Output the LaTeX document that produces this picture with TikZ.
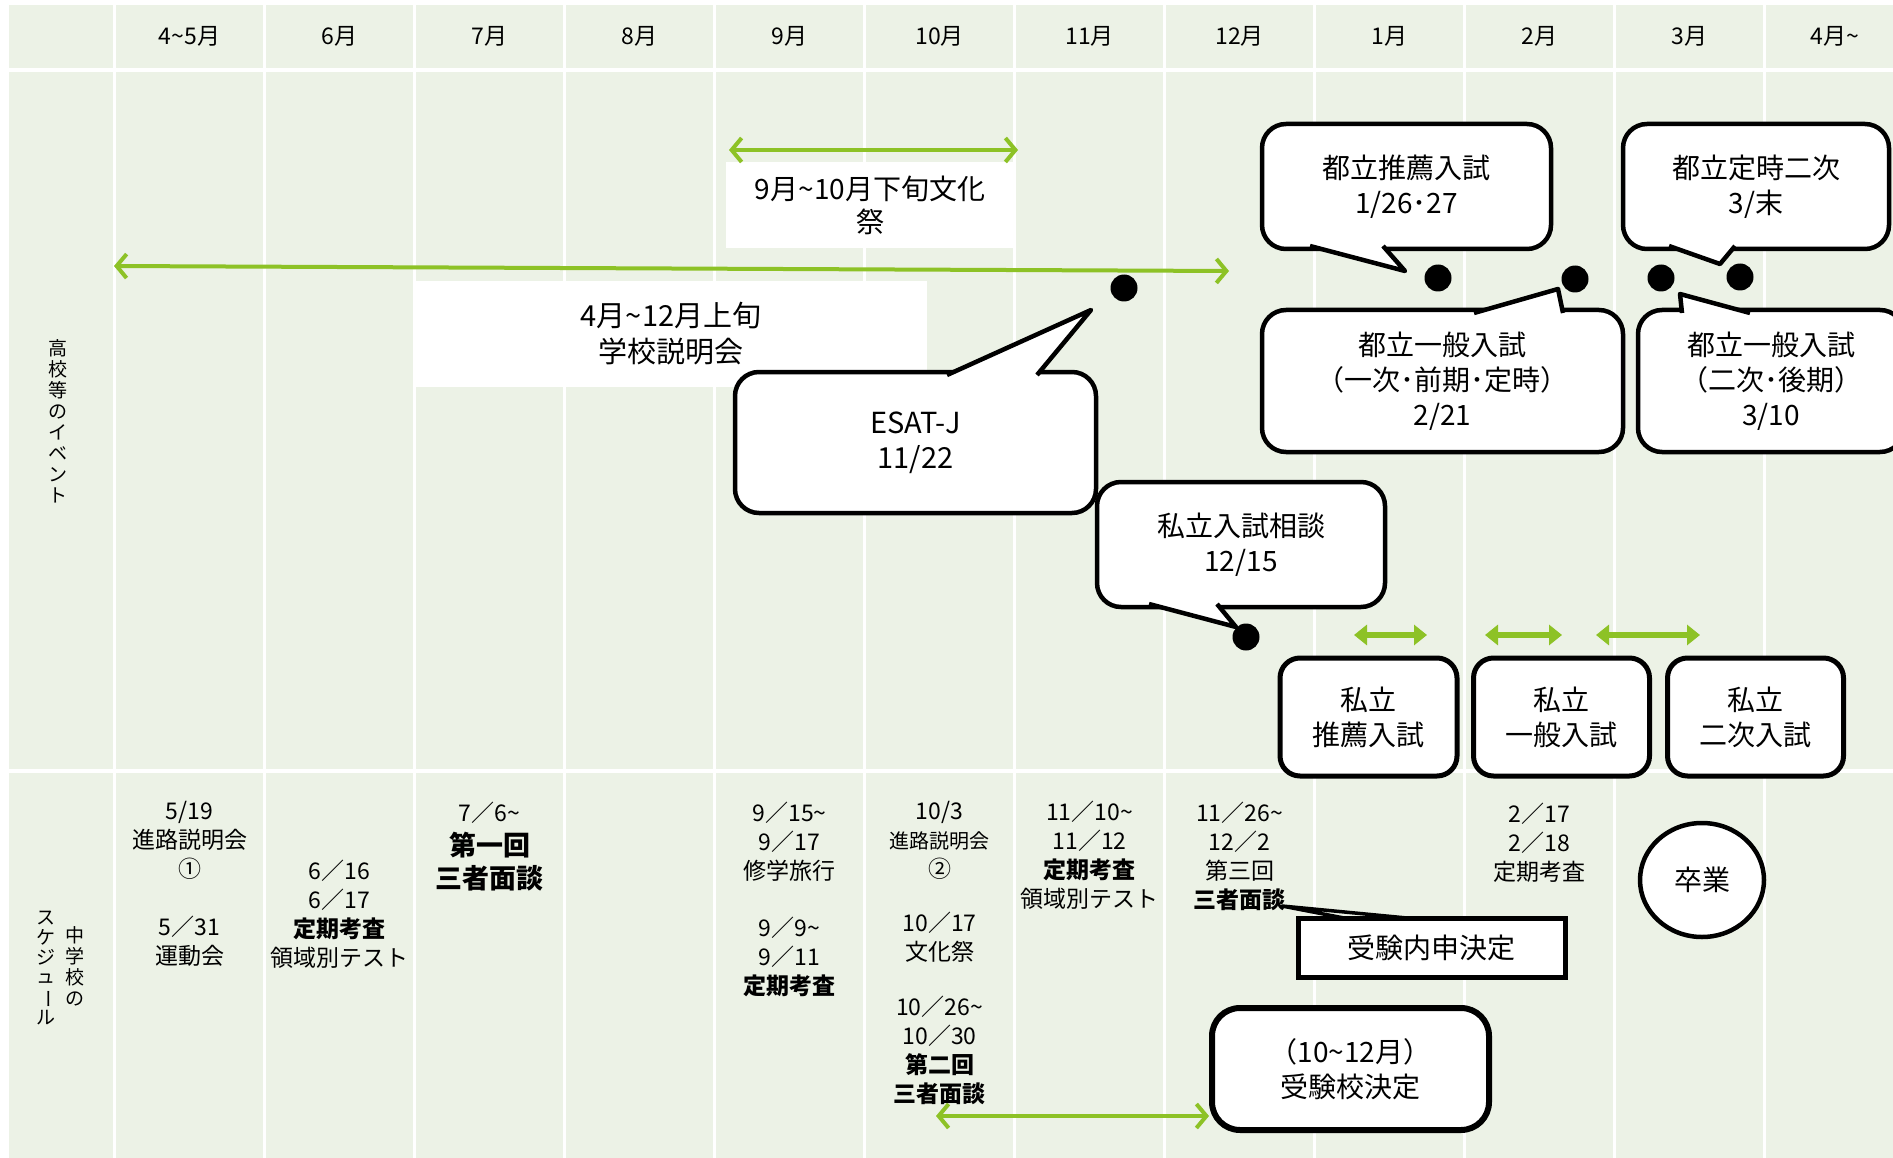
\documentclass[tikz,border=0pt]{standalone}
\usepackage{fontspec}
\setmainfont{Noto Sans CJK JP}
\usetikzlibrary{arrows.meta,shapes.geometric}
\definecolor{bggreen}{RGB}{236,242,230}
\definecolor{limegreen}{RGB}{141,194,38}
\newcommand{\fsz}[2]{\fontsize{#1}{#2}\selectfont}
\newcommand{\tld}{\textasciitilde}
\newcommand{\vbar}{\rotatebox[origin=c]{-90}{ー}}
\newcommand{\callptr}[3]{\fill[white] (#1) -- (#2) -- (#3) -- cycle; \draw[ptrline] (#1) -- (#2) -- (#3);}
\tikzset{
  gridline/.style={draw=white, line width=3.2pt},
  hdr/.style={font=\fsz{23}{26}, inner sep=0pt},
  vlab/.style={font=\fsz{19}{21}, align=center, inner sep=0pt},
  lbl/.style={fill=white, inner sep=0pt, align=center},
  call/.style={draw=black, fill=white, line width=4.5pt, rounded corners=24pt, outer sep=0pt, align=center, inner sep=0pt, font=\fsz{28}{35}},
  pbox/.style={call, rounded corners=20pt, line width=5pt},
  ptrline/.style={draw=black, line width=4.5pt, line join=round},
  dot/.style={circle, fill=black, minimum size=27pt, inner sep=0pt},
  garrow/.style={draw=limegreen, line width=4pt, >={Straight Barb[length=10pt,width=24pt]}, <->},
  sarrow/.style={draw=limegreen, line width=6pt, >={Triangle[length=13pt,width=20pt]}, <->},
  txt/.style={align=center, inner sep=0pt, font=\fsz{23}{29}},
}
\begin{document}
\begin{tikzpicture}[x=1pt,y=-1pt]
\useasboundingbox (0,0) rectangle (1893,1158);
\clip (0,0) rectangle (1893,1158);
% background table
\fill[white] (0,0) rectangle (1893,1158);
\fill[bggreen] (8.6,4.7) rectangle (1893,1158);
\foreach \x in {114.5,264.5,414.5,564.5,714.5,864.5,1014.5,1164.5,1314.5,1464.5,1614.5,1764.5}
  \draw[gridline] (\x,0) -- (\x,1158);
\draw[gridline] (0,70) -- (1893,70);
\draw[gridline] (0,771) -- (1893,771);

% header
\node[hdr] (h1) at (189.5,36) {4\tld5月};
\node[hdr] (h2) at (339.5,36) {6月};
\node[hdr] (h3) at (489.5,36) {7月};
\node[hdr] (h4) at (639.5,36) {8月};
\node[hdr] (h5) at (789.5,36) {9月};
\node[hdr] (h6) at (939.5,36) {10月};
\node[hdr] (h7) at (1089.5,36) {11月};
\node[hdr] (h8) at (1239.5,36) {12月};
\node[hdr] (h9) at (1389.5,36) {1月};
\node[hdr] (h10) at (1539.5,36) {2月};
\node[hdr] (h11) at (1689.5,36) {3月};
\node[hdr] (h12) at (1835,36) {4月\tld};

% row labels (vertical)
\node[vlab] (vl1) at (58,421) {高\\校\\等\\の\\イ\\ベ\\ン\\ト};
\node[vlab] (vl2) at (75,966) {中\\学\\校\\の};
\node[vlab, font=\fsz{19}{19.6}] (vl3) at (46,968) {ス\\ケ\\ジ\\ュ\\\vbar\\ル};

% label boxes
\node[lbl, minimum width=288pt, minimum height=86pt, font=\fsz{28}{33}] (fest) at (870,205) {9月\tld10月下旬文化\\祭};
\node[lbl, minimum width=512pt, minimum height=106pt, font=\fsz{29}{36}] (setsu) at (671,334) {4月\tld12月上旬\\学校説明会};

% green arrows
\coordinate (fa1) at (729,150); \coordinate (fa2) at (1018,150);
\draw[garrow] (fa1) -- (fa2);
\coordinate (la1) at (114,266); \coordinate (la2) at (1229,271);
\draw[garrow] (la1) -- (la2);
\coordinate (ba1) at (936,1116); \coordinate (ba2) at (1209,1116);
\draw[garrow] (ba1) -- (ba2);
\coordinate (sa1) at (1354,635); \coordinate (sa2) at (1427,635);
\draw[sarrow] (sa1) -- (sa2);
\coordinate (sb1) at (1485,635); \coordinate (sb2) at (1562,635);
\draw[sarrow] (sb1) -- (sb2);
\coordinate (sc1) at (1596,635); \coordinate (sc2) at (1700,635);
\draw[sarrow] (sc1) -- (sc2);

% callouts
\node[call, minimum width=361pt, minimum height=141pt, font=\fsz{29}{35}] (esat) at (915.5,442.5) {ESAT-J\\11/22};
\coordinate (esatTip) at (1091,310);
\callptr{[xshift=212pt,yshift=-3pt]esat.north west}{esatTip}{[xshift=302pt,yshift=-3pt]esat.north west}

\node[call, minimum width=289pt, minimum height=125pt] (suisen) at (1406.5,186.5) {都立推薦入試\\1/26･27};
\coordinate (suisenTip) at (1405,271);
\callptr{[xshift=48pt,yshift=3pt]suisen.south west}{suisenTip}{[xshift=121pt,yshift=3pt]suisen.south west}

\node[call, minimum width=266pt, minimum height=125pt] (teiji) at (1756,186.5) {都立定時二次\\3/末};
\coordinate (teijiTip) at (1720,264);
\callptr{[xshift=46pt,yshift=3pt]teiji.south west}{teijiTip}{[xshift=112pt,yshift=3pt]teiji.south west}

\node[call, minimum width=361pt, minimum height=142pt] (ippanA) at (1442.5,381) {都立一般入試\\（一次･前期･定時）\\2/21};
\coordinate (ippanATip) at (1558,289);
\callptr{[xshift=212pt,yshift=-3pt]ippanA.north west}{ippanATip}{[xshift=301pt,yshift=-3pt]ippanA.north west}

\node[call, minimum width=266pt, minimum height=142pt] (ippanB) at (1771,381) {都立一般入試\\（二次･後期）\\3/10};
\coordinate (ippanBTip) at (1680,294);
\callptr{[xshift=44pt,yshift=-3pt]ippanB.north west}{ippanBTip}{[xshift=112pt,yshift=-3pt]ippanB.north west}

\node[call, minimum width=288pt, minimum height=125pt] (soudan) at (1241,544.5) {私立入試相談\\12/15};
\coordinate (soudanTip) at (1236,627);
\callptr{[xshift=52pt,yshift=3pt]soudan.south west}{soudanTip}{[xshift=120pt,yshift=3pt]soudan.south west}

% private exam boxes
\node[pbox, minimum width=177pt, minimum height=118pt] (pA) at (1368.5,717) {私立\\推薦入試};
\node[pbox, minimum width=176pt, minimum height=118pt] (pB) at (1561.5,717) {私立\\一般入試};
\node[pbox, minimum width=176pt, minimum height=118pt] (pC) at (1755.5,717) {私立\\二次入試};

% dots
\node[dot] (dEsat) at (1124,288) {};
\node[dot] (dSuisen) at (1438,278) {};
\node[dot] (dIppanA) at (1575,279) {};
\node[dot] (dIppanB) at (1661,278) {};
\node[dot] (dTeiji) at (1740,277) {};
\node[dot] (dSoudan) at (1246,637) {};

% lower schedule texts
\node[txt] (c1a) at (189.5,840) {5/19\\進路説明会\\①};
\node[txt] (c1b) at (189.5,941.5) {5／31\\運動会};
\node[txt] (c2) at (339.5,914.5) {6／16\\6／17\\\textbf{定期考査}\\領域別テスト};
\node[txt] (c3a) at (489.5,813) {7／6\tld};
\node[txt, font=\fsz{27}{33}\bfseries] (c3b) at (489.5,861.5) {第一回\\三者面談};
\node[txt] (c5a) at (789.5,842) {9／15\tld\\9／17\\修学旅行};
\node[txt] (c5b) at (789.5,957) {9／9\tld\\9／11\\\textbf{定期考査}};
\node[txt] (c6a) at (939.5,840) {10/3\\{\fsz{20}{29}進路説明会}\\②};
\node[txt] (c6b) at (939.5,937.5) {10／17\\文化祭};
\node[txt] (c6c) at (939.5,1050.5) {10／26\tld\\10／30\\\textbf{第二回}\\\textbf{三者面談}};
\node[txt] (c7) at (1089.5,855.5) {11／10\tld\\11／12\\\textbf{定期考査}\\領域別テスト};
\node[txt] (c8) at (1239.5,856.5) {11／26\tld\\12／2\\第三回\\\textbf{三者面談}};
\node[txt] (c10) at (1539.5,842.5) {2／17\\2／18\\定期考査};

% lower boxes
\node[call, ellipse, minimum width=124pt, minimum height=114pt] (sotsu) at (1702,880) {卒業};
\node[call, rounded corners=0pt, line width=5pt, minimum width=267pt, minimum height=59pt] (naishin) at (1431.5,947.5) {受験内申決定};
\coordinate (naishinTip) at (1282,906);
\draw[ptrline, line width=3.5pt] ([xshift=46pt]naishin.north west) -- (naishinTip) -- ([xshift=109pt]naishin.north west);
\node[call, rounded corners=28pt, line width=6pt, minimum width=277pt, minimum height=122pt] (jukenko) at (1350.5,1069) {（10\tld12月）\\受験校決定};
\end{tikzpicture}
\end{document}
